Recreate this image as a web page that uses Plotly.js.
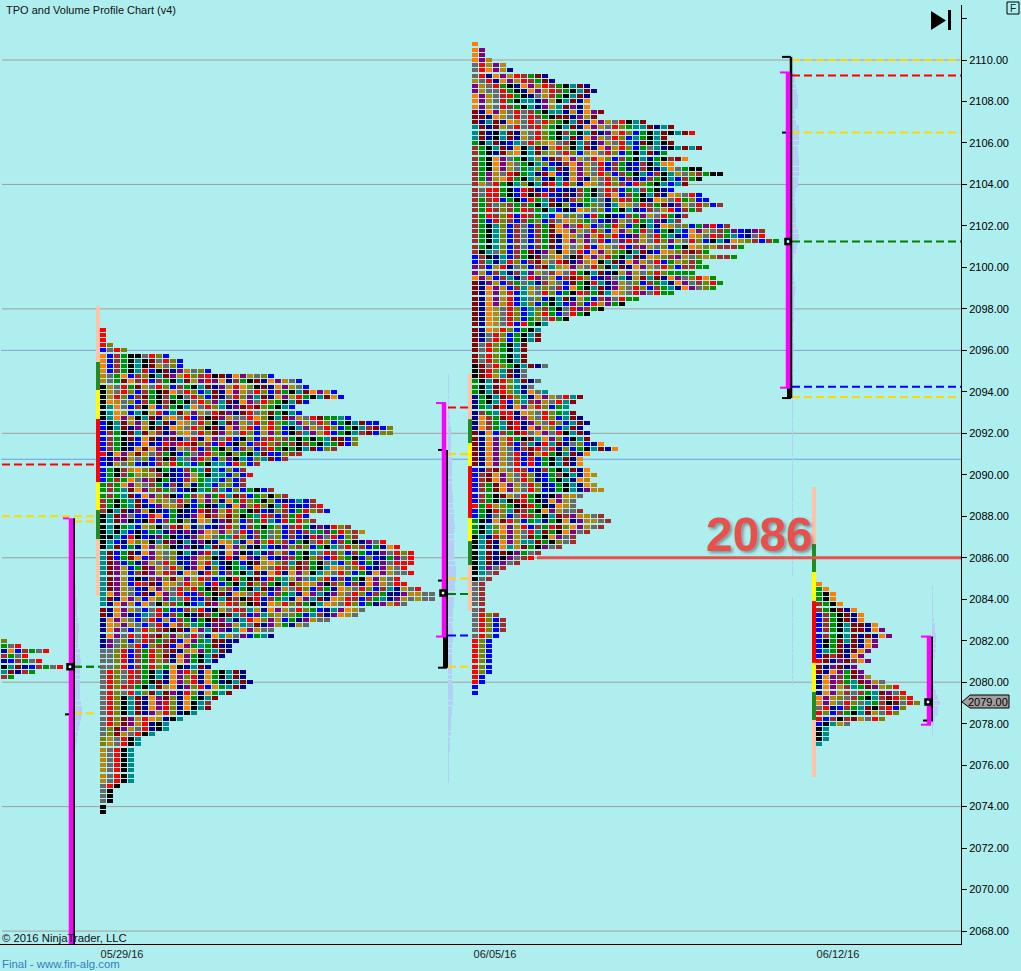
<!DOCTYPE html>
<html><head><meta charset="utf-8">
<script src="https://cdn.plot.ly/plotly-3.0.1.min.js"></script>
<style>html,body{margin:0;padding:0;background:#afeeee}</style></head>
<body><div id="c" style="width:1021px;height:971px"></div>
<script>
// ---------- data ----------
const paletteKeys = "obfgksrvtmnpy";
const paletteColors = ["#ff7f00","#0000ff","#a52a2a","#009000","#000000","#696969","#ff0000","#808000","#008b8b","#8b0000","#00008b","#800080","#b8860b"];

const profile0Top = 2082;
const profile0Rows = ["v","gsr","nobfgsr","fgsr","nbfgsr","ktmnbfgsr","tmnfg","fg"];

const profile1Top = 2097;
const profile1Rows = ["r","r","r","rv","bsrv","obfgkksrvb","obfgktkmsrvb","obfgktkmysvb","obfgktrbkmnpysvb",
"ysgobfvktmpyrvfrkmnopysvb","ysgmofrbfgktmyprponfgkmnopysb","kysrgmysrvbfgktmnpyrovkmnopysb",
"kysrvbfgkmosrvbtmnopysrvbfgktmopyb","kyrvbfmgkfgksrvbmnsrvptmnopyrgktmob","koysvbfgkfkgksrvptmnopsrvgktmb",
"ktosbfkobfgktosrvtnpmrmvgktb","ktoybtkyrbtmypysrmpnmrsvmgktb","ktopyktmnyosrbfkmpyssrovktmpysrmggtb",
"bktmypyktmnoysrvktmpysrvrvgtpysrvbgktmbb","bktmnpykmnoysrvkmnopyrbyrvbktpysrvbgktfmbv","bfgkmtmyfnpyosrvmpysrvbypvbkftpyrbgktfmbvv",
"bfgkmbomnpmnsrnopsrbkvbfrvfgkgkgtmmbv","bfgknbonbrprrmvfbrbkvbfrvfgfkfgktgmbv","bfgknomopmnysrbfgkvbfvbfrgkgktmbvf",
"rnopymysfgkbgsprvgkvgktmbbvff","bnpmysvbfkmtsprvbvpktbvtmbf","bnysvbnbfvrgtbgkttbrvbf","bgkfyovfkgnbfgtmtbvbf",
"bgkfgyvyfknbpygkttbvbr","bgfgospfkgnbfygttbvbf","gfgopysfgbfnyngtbvvbf","gfgtmopvfgsbnktgftbvbgkbf",
"gfgtmbopvfkbgfypgrtmfbgvkvf","fgkgtmbovysrvbypvnogrvgkvbnbtbf","fgkgtmnbpyyfkbgkntnopvrvktrbnbfr","fktmnpyknbgknbrmpyrvgkmbnvfbgrvfb",
"ktmpsbbrobgnnpomfymvkgtrfbfgrb","ktmpkbkrbfgkvnoynpmvbfgrtbrgrvf","ktkgtbyvksrmonsbnprvbfgkgvbfrgnpnrvf",
"ktktbkbgtnpnpnpoypysrbfgsvbfbftgpgrvfy","kktbrkbnpgkbnpyosgtrvbfgsvbfbnrpsrbvf","ktbnovyktmpktnpknoytnopvrvfbgksrvbfgknpsr",
"ktmbgnopyvknpkntmnopvnktbnpvfvbgktsrvfbgnor","tmbgmnopysvktnprtnopkntnpyfbgktsrfvbfgbnpsrvr","tmbgmobpysvbnpyvknrnopnybnpfgkvfbrvgkbvbngpsr",
"tmpbgnpysrvnbpyrtnkgbkmyovftmfgkstbvrbgnpsrrr","tmpybgmpysrvnponvbkgtnoysrfvmfgktoysvrbnpysr","tmpybfmpyrfnoynrvbfgktmnornopyktysrvbgnopyssr",
"tmpybknfpvmypyrfbgkrgkmbrgtypstvrbfbgkopysr","tmpybrfmnoysryvbrbgktmvfgktmvoypkfvbfnopysrr","tmpysbnopysrvrgkmvfbgktmnpysrvbfgnoysrvbftnysr",
"topysbmnopsrbbfgkmnoysrvbfgtnoptnpysrvbfgnnpyyss","tmnopybovptsrbbfktmfkmrbfgtnoptmnoyrfbfgtnpysyss","tnopyboskvfgkbtmpyrfvkmnoyrvfgktoysrvbgnpyfs",
"mnopysbsrgbbfvrnkysrftynopysrvgbntpoys","mnopnbtsrbfgknmfgkmtfbptvysvgbtfnpoys","nopysbsrbybfgngkmptntrovpybgnpyss",
"noypysbsrbofvtgnpmpytsmnpygnys","nopsbsrvfmkmnoptmpntopyss","nopsrsrfmvpysrsnotyspbgtn","npsvbsrfgfmbopgtmmnn","npsvsrbvfmbopgtgmnn",
"ssvrbfgrvfmnyopgtmn","ssvrbfgrvmnopgktmn","ssvrbfgrvfnopgktn","ssvrbfgrvgokntmn","srvsrfgktnoprvnogktmn","srvsrfgktnopvrnogktmn",
"srvsrfgkmnopvrnognktmn","srvrfgktmyonpvrbogtmn","srvsrtvmtmpnrvnogtm","srvktmnopmvnogktm","srvktmnoprvnoktf","srvktmnoprvnoktm",
"srvktmnpyrvnkt","srvmpyroynkt","srvmpyrnkt","svmpysrnkt","svmysrkt","vysrkt","vysrkt","ysrkt","ysrkt","ysrkt","ysrkt","ysrkt","ysrkt","ysrkt",
"srk","sk","sk","sk","k","k"];

const profile2Top = 2110.75;
const profile2Rows = ["o","op","op","opy","srypy","sropyn","srnopyrfgmn","ysrnopyrfgmn","pysrgknopyrfgktmn","pyssrgknopyrfgktmn","opysfrgknsyfgktmn",
"opysrgkttnpyktmno","opysrfgktnpytmpno","mnopysrsfgkttnynopm","mmnoysrsrfgkmmnpym","mntmnoysrsrvgktmnopysrktm","tmnmysrsfrvgktmnopysrvgttmntm",
"tmnktmnysrvgkfgktmnpyrvbgktmktmr","tmnktmnysrvgktmnopysrvbtgktm","gktmnbtsrvyosfktfnpysrtbmktkm","fgktmnoktmnyrvktmnopyrvbgstnktmtm",
"fgknmyoktmvysrvbyosrvbgktmng","fgkopsgktvbmfopysrovbfgktngkfmo","fgkopysgktvbnfopysrbfgnbfktoo","fgkopysgtvbtmnopysrbfgnbfkntosgkk",
"fgpysrmgtnmobnypysrvbfgktbfktysvfgkk","fgpyorgktvbktnopnysrvbfnbfgktbfgk","fysrgktvktmrtrvnoysrvfbrvgktbtm","fsrrgkbrmnbmbnnfgksrfbgtfgknb",
"fsrrgkbrkmrbnmnfgksrobfgktmnoysrb","fgfrbgkbrgtmbnfvgtsnvrfgknoysrgvbb","fgfsvfgfgktmkvbngvsntoysrfgmnpysrvbf","fgrfvfgrfgktbknoysvbgktnbfsyrbfgf",
"fgrfvrbrfgtbosvsbrgknbfgpysrgnf","fgbrvfbfgvbfsoyvgsbnpysrgtpntf","fgktvbfsbfgmopsrybsgrvbgktnoysvbgprbf","fgktvbfsbfgmoopysrvbopygrsbgktbopysfgpbnpf",
"fgktvbfsbfgmnoyspyrvrbnpysrgtnboysrfgtbnsr","fgktvbfsbfgmnopypsrbsprfysrvpysrvbktnoyvfbfg","fgktvbfsbfgmbosyrboysrbfpysvbgkoyvyfffg",
"fktsvbfgmnpykosrbopyvgktmnboyvfmfg","bfkntbfgkmsyoskmopyrgktmnoyvfpysvyvffg","bftntrvbfmysrmnpyoktmnopysrbgyvfg","pfbyrnsvbfmtyopysrvktmnopysrvbffgg",
"pybftnftpysfosrgktmnkypysvrvgggg","opybftnsrpsybfmrvbnpstnymtmnopsvrog","mnpybfgstnfysbmgkrtnpysvbfgtnopsfvrg","mnopybftysvsfbogktmnpysrvbfgtnopsvg",
"mnopyrbtysrvbgkrfgmtoysrpsrgg","mnopyrbtsvbktmnygbfpsrgg","mnopyrbtvbgktbpvbrypgk","mnoysrvbtvfgksrpfgk","mnoysrvbtvrgbsrgk","mnoysrvbgvsrgk","mnoysrbrgkt","mnoyrvbgkt",
"mnsrvbgktm","mnsrvbgktm","msrvgktm","msrvgktm","msrvgktm","msrvgktm","kmsrvgktmns","kmrvtmns","kmrytmns","gktmrvtmns","gktmrvtns","gktmrvtnost",
"ngktmrvtnopysrtm","ngktrbvtfpysrtm","ngtmrnopyrvbgt","nfgtrrnoysrvgtm","nofgmrnpysrvbtmn","nofgtmrnpysrvbtmn","nofgtmrnopyvbtmn","mnobfgmrsopsrktmn",
"mnopyrgkmtopvbktm","mnopyfbftnrtmnsvbno","mnopysbfmrsrnvbgktmno","mnopysrbmyrgktmno","mnopysrbrbgktmno","mnopysrbrbgktmno","bnfmysrfbnfgktmno",
"bfmopysrvnbgfktnoy","bfmopysrvnbgktnoy","bfgmopysrvnbgktnoy","bfgmopysrvbngktnpyy","bfgkmysrgknkpyys","bfgktkmrgknopys","rgryvgkmrgknoys","bgkrvtmfgkopyssf",
"bgnsvbsrfgktmfpyysf","gknomrvbgtngkonpyysf","gktvopyrbfgrmvopysf","gktvopysrtmgkopsf","ktnrvpysmgkopsf","ktmnopyttmgkvsf","ktmnotymgkpsf","ktmnmkpgsf","ktmnkpsfr",
"ktmnpsf","ktpsf","ktsf","ksf","sf","sf","sf","sf","sf","sf","srvf","srvbf","srvbf","srvbf","srvb","rvb","rvb","rvb","rvb","rvb","rvb","rvb","rb","rb","b","b"];

const profile3Top = 2084.75;
const profile3Rows = ["o","go","gko","gko","fgko","fgkmno","bfgkmno","bfgkmno","bfgktmmno","bfgktmmnop","bfgktmnmnop","bkgmtmnop","bkgmnmnop","btgmnmop",
"bmfmnop","rmnpmfop","mnpmnp","mnopgmp","nopfgmpy","nopfgtmpys","nopyftgmpyvr","nopyfsfgtmpsr","opyvsfgktfmrvr","opysrvstgfkmsrv","srnbfgtmkfrbv",
"rvbfgktmysrv","rbfkfmysrv","bktys","kt","kt","kt","t"];

const volume1Top = 2084.5;
const volume1Widths = [1,1,2,2,2,2,3,4,4,3,3,3,5,5,6,5,5,5,5,5,5,5,6,7,7,6,5,4,3,2,1];
const volume2Top = 2094.75;
const volume2Widths = [1,1,1,1,1,1,1,1,2,2,3,3,3,3,3,3,4,4,4,4,4,4,4,5,5,5,6,6,6,7,6,6,6,6,6,6,7,8,8,8,7,7,6,6,6,5,5,5,4,5,5,5,4,4,4,4,4,4,4,4,5,5,5,5,4,4,3,3,3,3,2,2,2,1,1,1,1,1,1];
const volume3Top = 2109.25;
const volume3Widths = [3,3,4,5,6,6,6,3,3,4,7,7,7,7,6,6,7,7,7,7,6,6,4,3,3,3,4,4,4,4,6,7,6,5,4,2,1,1,1,2,3,4,3,2,2,2,2,2,1,1,
1,1,2,2,1,1,1,1,1,1,1,1,1,
1,1,1,1,1,1,1,1,1,1,1,1,1,1,1,1,1,1,1,1,1,1,1,1,1,1,1,1,1,1,1,1,1,1,
0,0,0,0,
1,1,1,1,1,1,1,1,1,1,1,1,1,1,1,1,1];
const volume4Top = 2084.5;
const volume4Widths = [1,1,1,1,1,1,2,3,3,4,4,4,4,3,1,1,1,1,1,2,4,6,8,6,6,3,2,1,1];

const grayLevels = [2110,2104,2098,2092,2086,2080,2074,2068];
const blueLevels = [2096,2090.75];
const majorLevel = 2086;
const priceTicks = [2068,2070,2072,2074,2076,2078,2080,2082,2084,2086,2088,2090,2092,2094,2096,2098,2100,2102,2104,2106,2108,2110,2112];
const dateLabels = ["05/29/16","06/05/16","06/12/16"];

const band1Edges = [2098.14,2095.44,2094.09,2092.69,2089.65,2088.3,2086.9,2084.15];
const band2Edges = [2094.9,2092.68,2091.53,2090.42,2087.92,2086.8,2085.65,2083.43];
const band3Edges = [2089.41,2086.66,2085.31,2083.91,2080.93,2079.53,2078.18,2075.43];

const levels1Prices = [2090.5,2088,2087.75,2080.75,2078.5];
const levels1Colors = ["#ff0000","#ffd700","#ffd700","#008000","#ffd700"];
const levels2Prices = [2093.25,2091,2085,2084.25,2082.25,2080.75];
const levelsColors = ["#ff0000","#ffd700","#ffd700","#008000","#0000ff","#ffd700"];
const levels3Prices = [2110,2109.25,2106.5,2101.25,2094.25,2093.75];
const levels3Colors = ["#ffd700","#ff0000","#ffd700","#008000","#0000ff","#ffd700"];

const bracket1 = {hi:2087.9, lo:2067, poc:2080.75, tick:2078.45};
const bracket2 = {hi:2093.46, lo:2082.2, blackHi:2091.2, blackLo:2080.7, poc:2084.3, tick:2084.9};
const bracket3 = {hi:2109.4, lo:2094.2, blackHi:2110.15, blackLo:2093.7, poc:2101.25, tick:2106.5};
const bracket4 = {hi:2082.2, lo:2077.95, blackHi:2082.2, blackLo:2078.1, poc:2079.05, tick:2078.15};
const lastPrice = "2079.00";

// ---------- drawing ----------
const W=1021,H=971,L=0,R=961,T=5,B=944;
const yTop=2110+(60-T)/20.74, yBot=2110-(B-60)/20.74;
const px=x=>(x-L)/(R-L), py=y=>(B-y)/(B-T);
const step=.25, cell=7, cellW=6, cellH=4/20.74;
const traces=[];

// one bar per TPO letter, one trace per colour
const cellBase=paletteColors.map(()=>[]), cellPrice=paletteColors.map(()=>[]);
function addProfile(rows,top,x0){
  rows.forEach((r,i)=>{for(let j=0;j<r.length;j++){
    const k=paletteKeys.indexOf(r[j]);
    cellBase[k].push(x0+j*cell);cellPrice[k].push(top-i*step);
  }});
}
addProfile(profile0Rows,profile0Top,1);
addProfile(profile1Rows,profile1Top,100);
addProfile(profile2Rows,profile2Top,472);
addProfile(profile3Rows,profile3Top,816);
paletteColors.forEach((c,k)=>traces.push({type:'bar',orientation:'h',base:cellBase[k],y:cellPrice[k],
  x:cellBase[k].map(()=>cellW),width:cellH,marker:{color:c,opacity:.999,line:{width:0}},hoverinfo:'skip'}));

function vol(w,top,x0){
  traces.push({type:'bar',orientation:'h',x:w,base:x0,y:w.map((_,i)=>top-i*step),width:.23,
    marker:{color:'#b4cff5',opacity:.999,line:{width:0}},hoverinfo:'skip'});
}
vol(volume1Widths,volume1Top,75);
vol(volume2Widths,volume2Top,448);
vol(volume3Widths,volume3Top,792);
vol(volume4Widths,volume4Top,932);

function seg(xs,ys,color,width,dash){
  traces.push({type:'scatter',mode:'lines',x:xs,y:ys,line:{color:color,width:width,dash:dash||'solid',simplify:false},hoverinfo:'skip'});
}
const bandCols=["#228b22","#ffff00","#ff0000","#ffff00","#228b22"];
function band(e,x){
  seg([x,x],[e[0],e[7]],'#ffc3a8',4);
  for(let i=0;i<5;i++) seg([x,x],[e[i+1],e[i+2]],bandCols[i],4);
}
band(band1Edges,98);band(band2Edges,470);band(band3Edges,814);

levels1Prices.forEach((p,i)=>{
  const a=(i<2)?2:74; seg([a,96],[p,p],levels1Colors[i],2,'8px,4px');
});
levels2Prices.forEach((p,i)=>seg([448,470],[p,p],levelsColors[i],2,'8px,4px'));
levels3Prices.forEach((p,i)=>seg([792,961],[p,p],levels3Colors[i],2,'8px,4px'));
seg([74,100],[levels1Prices[3],levels1Prices[3]],'#008000',2,'8px,4px');

function poc(x,p){traces.push({type:'scatter',mode:'markers',x:[x],y:[p],marker:{symbol:'square',size:5,color:'#fff',line:{color:'#000',width:2.5}},hoverinfo:'skip'});}

// bracket 1
seg([74,74],[bracket1.hi,bracket1.lo],'#000',2);
seg([71,71],[bracket1.hi,bracket1.lo],'#ff00ff',4.5);
seg([63,69],[bracket1.hi,bracket1.hi],'#ff00ff',2);
seg([65,69],[bracket1.tick,bracket1.tick],'#000',2);
poc(70,bracket1.poc);
// bracket 2
seg([447,447],[bracket2.blackHi,bracket2.blackLo],'#000',2);
seg([438,442],[bracket2.blackHi,bracket2.blackHi],'#000',2);
seg([438,442],[bracket2.tick,bracket2.tick],'#000',2);
seg([445,445],[bracket2.lo,bracket2.blackLo],'#000',4);
seg([438,447],[bracket2.blackLo,bracket2.blackLo],'#000',2);
seg([444,444],[bracket2.hi,bracket2.lo],'#ff00ff',4.5);
seg([436,446],[bracket2.hi,bracket2.hi],'#ff00ff',2);
seg([436,446],[bracket2.lo,bracket2.lo],'#ff00ff',2);
poc(443,bracket2.poc);
// bracket 3
seg([791,791],[bracket3.blackHi,bracket3.blackLo],'#000',2.5);
seg([782,791],[bracket3.blackHi,bracket3.blackHi],'#000',2);
seg([782,786],[bracket3.tick,bracket3.tick],'#000',2);
seg([789,789],[bracket3.lo,bracket3.blackLo],'#000',4);
seg([782,791],[bracket3.blackLo,bracket3.blackLo],'#000',2);
seg([788,788],[bracket3.hi,bracket3.lo],'#ff00ff',4.5);
seg([780,790],[bracket3.hi,bracket3.hi],'#ff00ff',2);
seg([780,790],[bracket3.lo,bracket3.lo],'#ff00ff',2);
poc(788,bracket3.poc);
// bracket 4
seg([932,932],[bracket4.blackHi,bracket4.blackLo],'#000',2);
seg([929,929],[bracket4.hi,bracket4.lo],'#ff00ff',4.5);
seg([921,931],[bracket4.hi,bracket4.hi],'#ff00ff',2);
seg([921,931],[bracket4.lo,bracket4.lo],'#ff00ff',2);
seg([923,927],[bracket4.tick,bracket4.tick],'#000',2);
poc(928,bracket4.poc);

seg([537,961],[majorLevel,majorLevel],'#e8504e',3);

const shapes=[];
grayLevels.forEach(p=>shapes.push({type:'line',layer:'below',xref:'x',yref:'y',x0:2,x1:961,y0:p,y1:p,line:{color:'#a29e9e',width:1}}));
blueLevels.forEach((p,i)=>shapes.push({type:'line',layer:'below',xref:'x',yref:'y',x0:1,x1:961,y0:p,y1:p,line:{color:i?'#6f9fe0':'#7f9fd0',width:1}}));
function pathPx(pts,fill,line){
  const d=pts.map((q,i)=>(i?'L':'M')+px(q[0])+','+py(q[1])).join(' ')+' Z';
  shapes.push({type:'path',xref:'paper',yref:'paper',path:d,fillcolor:fill,line:line?{color:line,width:1}:{width:0}});
}
pathPx([[931,11],[946,20.5],[931,30]],'#000');
pathPx([[948,10],[951,10],[951,30],[948,30]],'#000');
pathPx([[962,702],[970,695],[1009,695],[1009,708],[970,708]],'#a39e9e','#000');
pathPx([[1007,2],[1019,2],[1019,14],[1007,14]],'rgba(0,0,0,0)','#000');

function label(text,xp,yp,size,color,anchor){
  return {text:text,xref:'paper',yref:'paper',x:px(xp),y:py(yp),xanchor:anchor||'left',yanchor:'middle',showarrow:false,
    font:{family:'"Liberation Sans",Arial,sans-serif',size:size,color:color}};
}
const annotations=[
  label('TPO and Volume Profile Chart (v4)',4,10,11,'#111'),
  label('© 2016 NinjaTrader, LLC',0,938,11.3,'#111'),
  label('Final - www.fin-alg.com',0,964,11.4,'#2f7fbf'),
  label(lastPrice,988,702,11,'#000','center'),
  label('F',1013,8,10,'#123','center'),
  {text:String(majorLevel),xref:'x',yref:'y',x:759,y:2087.1,xanchor:'center',yanchor:'middle',showarrow:false,
   font:{family:'"Liberation Sans",Arial,sans-serif',size:48,color:'#e8504e',weight:700,shadow:'2px 2px 3px rgba(60,90,90,.55)'}}
];

Plotly.newPlot('c',traces,{
  width:W,height:H,showlegend:false,barmode:'overlay',bargap:0,bargroupgap:0,
  margin:{l:L,r:W-R,t:T,b:H-B,pad:0},
  paper_bgcolor:'#afeeee',plot_bgcolor:'#afeeee',hovermode:false,
  font:{family:'"Liberation Sans",Arial,sans-serif',size:11,color:'#000'},
  xaxis:{range:[L,R],showgrid:false,zeroline:false,showline:true,linecolor:'#000',linewidth:1,
    tickmode:'array',tickvals:[122,495,838],ticktext:dateLabels,ticks:'',tickfont:{size:11,color:'#222'},fixedrange:true},
  yaxis:{range:[yBot,yTop],side:'right',showgrid:false,zeroline:false,showline:true,linecolor:'#000',linewidth:1,
    tickmode:'array',tickvals:priceTicks,ticktext:priceTicks.map(v=>v===2112?'':v.toFixed(2)),
    ticks:'outside',ticklen:5,tickcolor:'#000',tickwidth:1,tickfont:{size:11,color:'#000'},fixedrange:true},
  shapes:shapes,annotations:annotations
},{displayModeBar:false});
</script></body></html>
